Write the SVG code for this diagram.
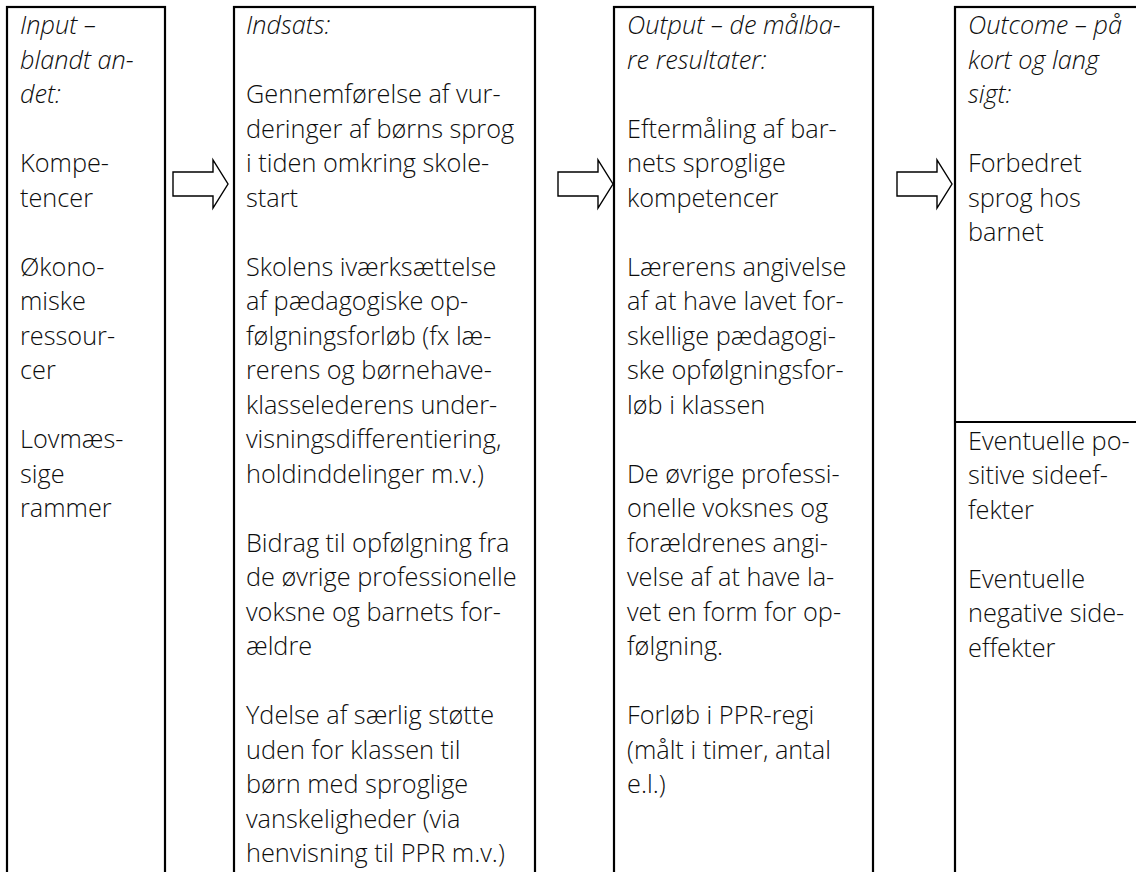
<svg xmlns="http://www.w3.org/2000/svg" width="1136" height="872" viewBox="0 0 1136 872">
<style>
.box{fill:#fff;stroke:#000;stroke-width:2.2}
.t{font-family:"Open Sans","Noto Sans","Liberation Sans",sans-serif;font-size:25.3px;font-weight:300;fill:#0d0d0d}
.i{font-style:italic}
.arrow{fill:#fff;stroke:#000;stroke-width:1.4;stroke-linejoin:miter}
</style>
<rect x="0" y="0" width="1136" height="872" fill="#fff"/>
<g id="input">
<rect class="box" x="7" y="7" width="158" height="900"/>
<text class="t i" x="20" y="34">Input –</text>
<text class="t i" x="20" y="68.5">blandt an-</text>
<text class="t i" x="20" y="103">det:</text>
<text class="t" x="20" y="172">Kompe-</text>
<text class="t" x="20" y="206.5">tencer</text>
<text class="t" x="20" y="275.5">Økono-</text>
<text class="t" x="20" y="310">miske</text>
<text class="t" x="20" y="344.5">ressour-</text>
<text class="t" x="20" y="379">cer</text>
<text class="t" x="20" y="448">Lovmæs-</text>
<text class="t" x="20" y="482.5">sige</text>
<text class="t" x="20" y="517">rammer</text>
</g>
<g id="indsats">
<rect class="box" x="234" y="7" width="301" height="900"/>
<text class="t i" x="246" y="34">Indsats:</text>
<text class="t" x="246" y="103">Gennemførelse af vur-</text>
<text class="t" x="246" y="137.5">deringer af børns sprog</text>
<text class="t" x="246" y="172">i tiden omkring skole-</text>
<text class="t" x="246" y="206.5">start</text>
<text class="t" x="246" y="275.5">Skolens iværksættelse</text>
<text class="t" x="246" y="310">af pædagogiske op-</text>
<text class="t" x="246" y="344.5">følgningsforløb (fx læ-</text>
<text class="t" x="246" y="379">rerens og børnehave-</text>
<text class="t" x="246" y="413.5">klasselederens under-</text>
<text class="t" x="246" y="448">visningsdifferentiering,</text>
<text class="t" x="246" y="482.5">holdinddelinger m.v.)</text>
<text class="t" x="246" y="551.5">Bidrag til opfølgning fra</text>
<text class="t" x="246" y="586">de øvrige professionelle</text>
<text class="t" x="246" y="620.5">voksne og barnets for-</text>
<text class="t" x="246" y="655">ældre</text>
<text class="t" x="246" y="724">Ydelse af særlig støtte</text>
<text class="t" x="246" y="758.5">uden for klassen til</text>
<text class="t" x="246" y="793">børn med sproglige</text>
<text class="t" x="246" y="827.5">vanskeligheder (via</text>
<text class="t" x="246" y="862">henvisning til PPR m.v.)</text>
</g>
<g id="output">
<rect class="box" x="614" y="7" width="259" height="900"/>
<text class="t i" x="627" y="34">Output – de målba-</text>
<text class="t i" x="627" y="68.5">re resultater:</text>
<text class="t" x="627" y="137.5">Eftermåling af bar-</text>
<text class="t" x="627" y="172">nets sproglige</text>
<text class="t" x="627" y="206.5">kompetencer</text>
<text class="t" x="627" y="275.5">Lærerens angivelse</text>
<text class="t" x="627" y="310">af at have lavet for-</text>
<text class="t" x="627" y="344.5">skellige pædagogi-</text>
<text class="t" x="627" y="379">ske opfølgningsfor-</text>
<text class="t" x="627" y="413.5">løb i klassen</text>
<text class="t" x="627" y="482.5">De øvrige professi-</text>
<text class="t" x="627" y="517">onelle voksnes og</text>
<text class="t" x="627" y="551.5">forældrenes angi-</text>
<text class="t" x="627" y="586">velse af at have la-</text>
<text class="t" x="627" y="620.5">vet en form for op-</text>
<text class="t" x="627" y="655">følgning.</text>
<text class="t" x="627" y="724">Forløb i PPR-regi</text>
<text class="t" x="627" y="758.5">(målt i timer, antal</text>
<text class="t" x="627" y="793">e.l.)</text>
</g>
<g id="outcome">
<rect class="box" x="955" y="7" width="200" height="900"/>
<line x1="955" y1="422" x2="1136" y2="422" stroke="#000" stroke-width="2.2"/>
<text class="t i" x="968" y="34">Outcome – på</text>
<text class="t i" x="968" y="68.5">kort og lang</text>
<text class="t i" x="968" y="103">sigt:</text>
<text class="t" x="968" y="172">Forbedret</text>
<text class="t" x="968" y="206.5">sprog hos</text>
<text class="t" x="968" y="241">barnet</text>
<text class="t" x="968" y="449.5">Eventuelle po-</text>
<text class="t" x="968" y="484">sitive sideef-</text>
<text class="t" x="968" y="518.5">fekter</text>
<text class="t" x="968" y="587.5">Eventuelle</text>
<text class="t" x="968" y="622">negative side-</text>
<text class="t" x="968" y="656.5">effekter</text>
</g>
<g id="connectors">
<polygon class="arrow" points="173,172 213,172 213,160 228,184 213,208 213,196 173,196"/>
<polygon class="arrow" points="558,172 598,172 598,160 613,184 598,208 598,196 558,196"/>
<polygon class="arrow" points="897,172 937,172 937,160 952,184 937,208 937,196 897,196"/>
</g>
</svg>
